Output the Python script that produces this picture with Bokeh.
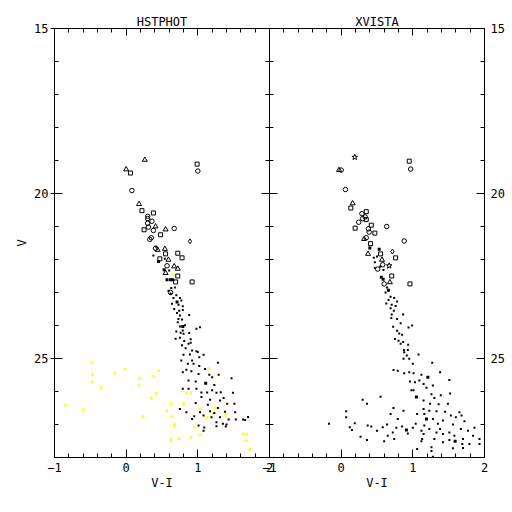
from bokeh.plotting import figure
from bokeh.models import Range1d, FixedTicker, LinearAxis
from bokeh.layouts import row
from bokeh.embed import file_html
from bokeh.resources import INLINE

# ---------------- axes ----------------
X_MAJOR = [-1, 0, 1, 2]
X_MINOR = [-0.8, -0.6, -0.4, -0.2, 0.2, 0.4, 0.6, 0.8, 1.2, 1.4, 1.6, 1.8]
Y_MAJOR = [15, 20, 25]
Y_MINOR = [16, 17, 18, 19, 21, 22, 23, 24, 26, 27, 28]
PANEL_TITLES = ["HSTPHOT", "XVISTA"]
X_LABEL = "V-I"
Y_LABEL = "V"

# ---------------- HSTPHOT panel ----------------
hst_tri_x = [0.26, 0.00, 0.18, 0.41, 0.55, 0.44, 0.54, 0.59, 0.67, 0.72, 0.55]
hst_tri_y = [18.98, 19.27, 20.32, 21.00, 21.09, 21.71, 21.68, 22.01, 22.21, 22.28, 22.41]
hst_sq_x = [0.06, 0.99, 0.22, 0.38, 0.25, 0.48, 0.55, 0.72, 0.78, 0.47, 0.72, 0.69, 0.92]
hst_sq_y = [19.38, 19.11, 20.52, 20.59, 21.10, 21.25, 21.83, 21.81, 21.95, 21.98, 22.50, 22.68, 22.68]
hst_circ_x = [1.00, 0.08, 0.30, 0.30, 0.36, 0.30, 0.31, 0.38, 0.67, 0.35, 0.33, 0.41, 0.57, 0.62]
hst_circ_y = [19.32, 19.91, 20.69, 20.76, 20.84, 20.90, 21.02, 21.12, 21.06, 21.34, 21.39, 21.66, 22.19, 23.00]
hst_dia_x = [0.89]
hst_dia_y = [21.45]
hst_big_x = [0.45, 0.53, 0.57, 0.62, 0.65, 0.71, 0.79, 1.11]
hst_big_y = [22.06, 22.31, 22.61, 22.61, 22.61, 23.29, 24.03, 25.75]
hst_dot_x = [0.42, 0.38, 0.54, 0.60, 0.63, 0.68, 0.59, 0.62, 0.70, 0.66, 0.75, 0.77,
             0.64, 0.73, 0.79, 0.67, 0.74, 0.79, 0.71, 0.75, 0.73, 0.78, 0.88, 0.72,
             0.75, 0.82, 0.79, 0.76, 0.80, 0.88, 1.03, 0.98, 0.70, 0.69, 0.75, 0.81,
             0.90, 0.87, 0.90, 0.78, 0.83, 0.92, 0.98, 0.80, 0.89, 1.08, 1.00,
             1.02, 0.92, 0.77, 0.86, 0.94, 1.02, 1.28, 0.84, 0.91, 1.01, 1.10, 1.16,
             1.20, 1.29, 0.79, 0.87, 0.97, 1.23, 1.47, 0.79, 0.87, 0.98, 1.05,
             1.13, 1.20, 1.26, 1.32, 1.49, 1.36, 1.17, 1.05, 0.97, 1.31, 1.41, 1.51,
             1.14, 1.28, 0.75, 0.84, 1.03, 1.17, 1.23, 1.38, 1.52, 0.95, 1.08, 1.19,
             1.31, 0.92, 1.43, 1.53, 1.63, 1.70, 1.26, 1.35, 1.09, 1.26, 1.39, 1.08,
             1.01, 1.66, 1.40]
hst_dot_y = [21.61, 21.88, 21.98, 22.33, 22.86, 22.85, 22.95, 23.03, 23.08, 23.17, 23.17, 23.24,
             23.34, 23.37, 23.42, 23.50, 23.55, 23.53, 23.62, 23.70, 23.80, 23.82, 23.68, 23.90,
             24.03, 23.99, 24.15, 24.22, 24.25, 24.23, 24.05, 24.10, 24.18, 24.40, 24.37, 24.47,
             24.42, 24.55, 24.52, 24.60, 24.69, 24.76, 24.78, 24.89, 24.88, 24.89, 24.80,
             24.96, 25.06, 25.06, 25.16, 25.16, 25.23, 25.13, 25.34, 25.39, 25.47, 25.32, 25.49,
             25.57, 25.49, 25.42, 25.67, 25.70, 25.80, 25.60, 25.92, 25.92, 25.92, 26.03,
             26.03, 25.96, 26.04, 26.02, 26.04, 26.20, 26.25, 26.17, 26.35, 26.27, 26.37, 26.37,
             26.40, 26.50, 26.53, 26.63, 26.63, 26.60, 26.65, 26.61, 26.63, 26.75, 26.73, 26.78,
             26.78, 26.83, 26.85, 26.85, 26.85, 26.77, 26.93, 26.98, 27.09, 27.05, 27.06, 27.19,
             27.03, 26.86, 27.00]
hst_yel_x = [0.655, -1.00, -0.48, -0.47, -0.475, -0.35, -0.16, -0.015, 0.19, 0.18, 0.385, 0.455,
             -0.85, -0.60, 0.24, 0.42, 0.35, 0.63, 0.57, 0.635, 0.68, 0.665, 0.80, 0.90,
             0.84, 1.03, 1.15, 1.21, 1.13, 1.385, 0.95, 1.03, 0.63, 0.74, 0.90, 1.63,
             1.68, 1.67, 1.72, 1.245]
hst_yel_y = [22.47, 24.96, 25.14, 25.49, 25.71, 25.88, 25.45, 25.32, 25.61, 25.79, 25.53, 25.37,
             26.41, 26.55, 26.76, 26.05, 26.20, 26.36, 26.58, 26.76, 27.00, 27.04, 26.36, 26.04,
             26.06, 26.53, 25.30, 26.68, 26.78, 26.73, 27.09, 27.32, 27.47, 27.43, 27.39, 27.29,
             27.29, 27.49, 27.76, 26.49]

# ---------------- XVISTA panel ----------------
xv_star_x = [0.19, 0.67]
xv_star_y = [18.90, 22.19]
xv_tri_x = [-0.03, 0.16, 0.32, 0.375, 0.57, 0.68]
xv_tri_y = [19.29, 20.30, 21.38, 21.83, 22.01, 22.69]
xv_sq_x = [0.95, 0.135, 0.35, 0.35, 0.195, 0.42, 0.47, 0.41, 0.55, 0.76, 0.705, 0.96]
xv_sq_y = [19.02, 20.44, 20.55, 20.79, 21.05, 20.96, 21.20, 21.52, 21.83, 21.95, 22.50, 22.74]
xv_circ_x = [0.00, 0.97, 0.06, 0.29, 0.335, 0.30, 0.245, 0.38, 0.39, 0.635, 0.88, 0.35, 0.58, 0.51, 0.60]
xv_circ_y = [19.29, 19.26, 19.88, 20.61, 20.71, 20.76, 20.87, 21.07, 21.17, 21.00, 21.44, 21.34, 22.16, 22.29, 22.74]
xv_dia_x = [0.715]
xv_dia_y = [21.76]
xv_big_x = [0.40, 0.53, 0.56, 0.585, 0.66, 1.21, 1.05, 1.19, 0.91, 1.59]
xv_big_y = [21.65, 21.69, 22.54, 22.60, 22.93, 25.57, 26.17, 26.83, 27.17, 27.51]
xv_dot_x = [0.50, 0.455, 0.47, 0.545, 0.47, 0.59, 0.64, 0.62, 0.69, 0.74, 0.66, 0.78,
            0.63, 0.705, 0.76, 0.69, 0.735, 0.705, 0.865, 0.70, 0.78, 0.83, 0.725, 0.99,
            0.94, 0.78, 0.81, 0.85, 0.75, 0.80, 0.865, 0.935, 0.83, 0.875, 0.93,
            0.88, 0.915, 0.95, 0.87, 1.00, 1.08, 1.27, 0.79, 0.88, 0.95, 1.01, 1.12,
            1.38, 0.73, 0.96, 1.03, 1.09, 1.15, 1.28, 1.51, 0.98, 1.01, 1.19, 1.26,
            1.39, 1.52, 0.55, 0.30, 0.36, 1.15, 1.30, 1.24, 1.36, 1.49, 0.73, 0.87,
            1.15, 1.23, 1.33, 1.45, 1.65, 0.07, 0.69, 1.06, 1.16, 1.53, 1.60, 1.68,
            0.07, 0.79, 1.28, 1.42, -0.17, 0.19, 0.64, 1.04, 1.16, 1.35, 1.56, 1.72,
            0.12, 0.37, 0.42, 0.58, 0.77, 0.85, 1.00, 1.23, 1.38, 1.67, 1.86, 0.15,
            0.50, 0.72, 1.12, 1.33, 1.51, 1.77, 0.65, 0.93, 1.15, 1.42, 1.58, 1.84,
            0.27, 0.74, 1.13, 1.30, 1.51, 1.70, 1.93, 0.36, 0.60, 1.12, 1.42, 1.69,
            1.79, 1.93, 1.06, 1.26, 1.56, 1.70, 1.26, 1.28]
xv_dot_y = [21.91, 21.95, 22.08, 22.21, 22.26, 22.32, 22.85, 23.00, 23.13, 23.17, 23.23, 23.27,
            23.33, 23.37, 23.41, 23.48, 23.55, 23.67, 23.67, 23.77, 23.80, 23.93, 24.04, 24.00,
            24.06, 24.16, 24.24, 24.28, 24.41, 24.46, 24.50, 24.58, 24.55, 24.74, 24.74,
            24.81, 24.91, 25.01, 25.01, 25.16, 24.88, 25.13, 25.37, 25.45, 25.42, 25.45, 25.49,
            25.42, 25.35, 25.70, 25.72, 25.67, 25.77, 25.82, 25.65, 25.96, 25.96, 25.89, 26.08,
            26.11, 26.06, 26.16, 26.25, 26.37, 26.27, 26.20, 26.37, 26.39, 26.37, 26.50, 26.58,
            26.53, 26.58, 26.60, 26.61, 26.63, 26.60, 26.68, 26.68, 26.68, 26.73, 26.78, 26.73,
            26.78, 26.83, 26.83, 26.88, 26.98, 26.96, 27.00, 26.98, 27.03, 26.98, 27.00, 26.90,
            27.08, 27.03, 27.06, 27.08, 27.10, 27.06, 27.10, 27.14, 27.14, 27.14, 27.10, 27.17,
            27.19, 27.24, 27.19, 27.24, 27.24, 27.19, 27.34, 27.27, 27.29, 27.29, 27.34, 27.34,
            27.37, 27.44, 27.44, 27.44, 27.47, 27.44, 27.44, 27.47, 27.51, 27.51, 27.54, 27.59,
            27.59, 27.59, 27.74, 27.69, 27.72, 27.71, 27.80, 27.98]

FONT = "DejaVu Sans Mono"
FSIZE = "12px"


def set_ticks(ax, major, minor, tick_out, labels, standoff=2):
    ax.ticker = FixedTicker(ticks=major, minor_ticks=minor)
    ax.major_tick_in = 8
    ax.major_tick_out = tick_out
    ax.minor_tick_in = 4
    ax.minor_tick_out = 0
    ax.axis_line_color = "black"
    ax.major_tick_line_color = "black"
    ax.minor_tick_line_color = "black"
    ax.major_label_text_font = FONT
    ax.major_label_text_color = "black"
    ax.major_label_text_font_size = FSIZE
    if labels:
        ax.major_label_standoff = standoff
    else:
        ax.major_label_overrides = {t: "" for t in major}
        ax.major_label_standoff = 0
    ax.axis_label_text_font = FONT
    ax.axis_label_text_font_size = FSIZE
    ax.axis_label_text_font_style = "normal"
    ax.axis_label_text_color = "black"


def panel(title, border_left, border_right, left_labels, right_labels):
    p = figure(frame_width=215, frame_height=429,
               x_range=Range1d(-1, 2), y_range=Range1d(28, 15),
               x_axis_location=None, y_axis_location=None,
               output_backend="svg", toolbar_location=None,
               min_border_left=border_left, min_border_right=border_right,
               min_border_top=28, min_border_bottom=38,
               title=title)
    p.title.align = "center"
    p.title.text_font = FONT
    p.title.text_font_size = FSIZE
    p.title.text_font_style = "normal"
    p.title.text_color = "black"
    p.title.standoff = 0
    p.title.offset = 0
    p.xgrid.visible = False
    p.ygrid.visible = False
    p.outline_line_color = "black"
    p.outline_line_width = 1
    p.background_fill_color = "white"

    bottom = LinearAxis(axis_label=X_LABEL)
    set_ticks(bottom, X_MAJOR, X_MINOR, 0, True, standoff=5)
    bottom.axis_label_standoff = 1
    p.add_layout(bottom, "below")
    top = LinearAxis()
    set_ticks(top, X_MAJOR, X_MINOR, 0, False)
    top.major_tick_in = 7
    p.add_layout(top, "above")

    left = LinearAxis(axis_label=Y_LABEL if left_labels else None)
    set_ticks(left, Y_MAJOR, Y_MINOR, 4 if left_labels else 0, left_labels, standoff=2)
    left.axis_label_standoff = 2
    p.add_layout(left, "left")
    right = LinearAxis()
    set_ticks(right, Y_MAJOR, Y_MINOR, 0, right_labels, standoff=6)
    p.add_layout(right, "right")
    return p


def open_marks(p, xs, ys, marker, size):
    p.scatter(xs, ys, marker=marker, size=size, fill_color=None,
              line_color="black", line_width=1)


def dots(p, xs, ys, color, size):
    p.scatter(xs, ys, marker="square", size=size, fill_color=color,
              line_color=None)


p1 = panel(PANEL_TITLES[0], 54, 10, True, False)
dots(p1, hst_yel_x, hst_yel_y, "#ffff00", 2.5)
dots(p1, hst_dot_x, hst_dot_y, "black", 2)
dots(p1, hst_big_x, hst_big_y, "black", 3)
open_marks(p1, hst_tri_x, hst_tri_y, "triangle", 5)
open_marks(p1, hst_sq_x, hst_sq_y, "square", 4)
open_marks(p1, hst_circ_x, hst_circ_y, "circle", 4.5)
open_marks(p1, hst_dia_x, hst_dia_y, "diamond", 5)

p2 = panel(PANEL_TITLES[1], 10, 20, False, True)
p2.border_fill_color = None
p2.margin = (0, 0, 0, -20)
dots(p2, xv_dot_x, xv_dot_y, "black", 2)
dots(p2, xv_big_x, xv_big_y, "black", 3)
open_marks(p2, xv_star_x, xv_star_y, "star", 6)
open_marks(p2, xv_tri_x, xv_tri_y, "triangle", 5)
open_marks(p2, xv_sq_x, xv_sq_y, "square", 4)
open_marks(p2, xv_circ_x, xv_circ_y, "circle", 4.5)
open_marks(p2, xv_dia_x, xv_dia_y, "diamond", 5)

layout = row(p1, p2)
open("out.html", "w").write(file_html(layout, INLINE))
